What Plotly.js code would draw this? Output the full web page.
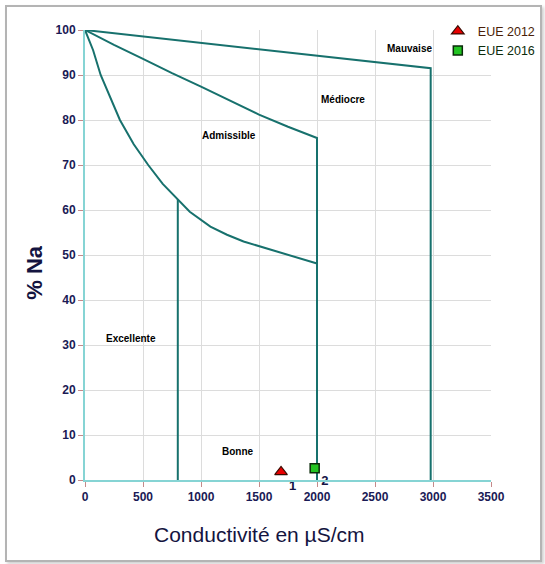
<!DOCTYPE html>
<html>
<head>
<meta charset="utf-8">
<script src="https://cdn.plot.ly/plotly-3.0.1.min.js"></script>
<style>
  html, body { margin: 0; padding: 0; background: #ffffff; }
  #wrap { position: relative; width: 545px; height: 564px; overflow: hidden; }
  #frame { position: absolute; left: 5px; top: 5px; width: 533px; height: 553px;
           border: 2px solid #b4b4b4; box-shadow: 2px 2px 3px #d0d0d0; background: #fff; }
  #chart { position: absolute; left: 0; top: 0; width: 545px; height: 564px; }
</style>
</head>
<body>
<div id="wrap">
  <div id="frame"></div>
  <div id="chart"></div>
</div>
<script>
// Sample data (conductivity µS/cm, % Na)
const sampleNames = ['EUE 2012', 'EUE 2016'];
const sampleCond = [1690, 1980];
const sampleNa = [1.8, 2.6];
const sampleLabels = ['1', '2'];

// Wilcox diagram boundaries
const mauvaiseX = [0, 2980, 2980];
const mauvaiseY = [100, 91.5, 0];
const mediocreX = [0, 250, 500, 750, 1000, 1250, 1500, 1750, 2000, 2000];
const mediocreY = [100, 96.7, 93.6, 90.4, 87.4, 84.3, 81.2, 78.5, 76, 0];
const bonneX = [0, 70, 135, 220, 301, 420, 545, 670, 800, 903, 1081, 1224, 1367, 1511, 1654, 1797, 2000];
const bonneY = [100, 95.5, 90, 84.8, 80, 74.6, 70, 65.8, 62.4, 59.6, 56.3, 54.5, 53.0, 51.9, 50.8, 49.7, 48.1];
const excellenteX = [800, 800];
const excellenteY = [62.4, 0];

// Zone labels
const zoneNames = ['Mauvaise', 'Médiocre', 'Admissible', 'Excellente', 'Bonne'];
const zoneX = [2795, 2221, 1238, 400, 1318];
const zoneY = [95.9, 84.6, 76.6, 31.4, 6.3];

const lineColor = '#17716d';
const lineStyle = { color: lineColor, width: 2 };

const traces = [
  { x: mauvaiseX, y: mauvaiseY, mode: 'lines', line: lineStyle, showlegend: false, hoverinfo: 'skip', cliponaxis: false },
  { x: mediocreX, y: mediocreY, mode: 'lines', line: lineStyle, showlegend: false, hoverinfo: 'skip', cliponaxis: false },
  { x: bonneX, y: bonneY, mode: 'lines', line: lineStyle, showlegend: false, hoverinfo: 'skip', cliponaxis: false },
  { x: excellenteX, y: excellenteY, mode: 'lines', line: lineStyle, showlegend: false, hoverinfo: 'skip', cliponaxis: false },
  {
    x: [sampleCond[0]], y: [sampleNa[0]], text: [sampleLabels[0]],
    name: '<span style="color:#4a1e08">' + sampleNames[0] + '</span>',
    mode: 'markers+text', textposition: 'bottom right', cliponaxis: false,
    textfont: { family: 'Liberation Sans, Arial, sans-serif', size: 13, color: '#141445', weight: 'bold' },
    marker: { symbol: 'triangle-up', size: 11, color: '#e80000', line: { color: '#3a0a00', width: 1.2 } }
  },
  {
    x: [sampleCond[1]], y: [sampleNa[1]], text: [sampleLabels[1]],
    name: '<span style="color:#0c2c0c">' + sampleNames[1] + '</span>',
    mode: 'markers+text', textposition: 'bottom right', cliponaxis: false,
    textfont: { family: 'Liberation Sans, Arial, sans-serif', size: 13, color: '#141445', weight: 'bold' },
    marker: { symbol: 'square', size: 9, color: '#22c422', line: { color: '#0a2a0a', width: 1.5 } }
  }
];

const annotations = zoneNames.map((t, i) => ({
  x: zoneX[i], y: zoneY[i], xref: 'x', yref: 'y', text: t, showarrow: false,
  xanchor: 'center', yanchor: 'middle',
  font: { family: 'Liberation Sans, Arial, sans-serif', size: 10, color: '#000000', weight: 'bold' }
}));
annotations.push({
  xref: 'paper', yref: 'paper', x: 0.4286, y: -0.121, xanchor: 'center', yanchor: 'middle',
  text: 'Conductivité en µS/cm', showarrow: false,
  font: { family: 'Liberation Sans, Arial, sans-serif', size: 21, color: '#141440' }
});
annotations.push({
  xref: 'paper', yref: 'paper', x: -0.123, y: 0.4606, xanchor: 'center', yanchor: 'middle',
  text: '% Na', showarrow: false, textangle: -90,
  font: { family: 'Liberation Sans, Arial, sans-serif', size: 22, color: '#141440', weight: 'bold' }
});

const tickFont = { family: 'Liberation Sans, Arial, sans-serif', size: 12, color: '#1a1a55', weight: 'bold' };

const layout = {
  width: 545, height: 564,
  margin: { l: 85, r: 54, t: 30, b: 83.5, autoexpand: false },
  paper_bgcolor: 'rgba(0,0,0,0)',
  plot_bgcolor: 'rgba(0,0,0,0)',
  showlegend: true,
  legend: {
    x: 0.869, y: 1.03, xanchor: 'left', yanchor: 'top', itemwidth: 30,
    bgcolor: 'rgba(0,0,0,0)', tracegroupgap: 0,
    font: { family: 'Liberation Sans, Arial, sans-serif', size: 12.5, color: '#222222' }
  },
  xaxis: {
    range: [0, 3500], dtick: 500, tick0: 0, showgrid: true, gridcolor: '#dcdcdc', gridwidth: 1,
    zeroline: false, showline: true, linecolor: '#86d4d4', linewidth: 2,
    ticks: 'outside', ticklen: 5, tickcolor: '#c48a8a', tickwidth: 1,
    tickfont: tickFont, fixedrange: true
  },
  yaxis: {
    range: [0, 100], dtick: 10, tick0: 0, showgrid: true, gridcolor: '#dcdcdc', gridwidth: 1,
    zeroline: false, showline: true, linecolor: '#86d4d4', linewidth: 2,
    ticks: 'outside', ticklen: 5, tickcolor: '#c48a8a', tickwidth: 1,
    tickfont: tickFont, fixedrange: true
  },
  annotations: annotations
};

Plotly.newPlot('chart', traces, layout, { displayModeBar: false, staticPlot: true });
</script>
</body>
</html>
